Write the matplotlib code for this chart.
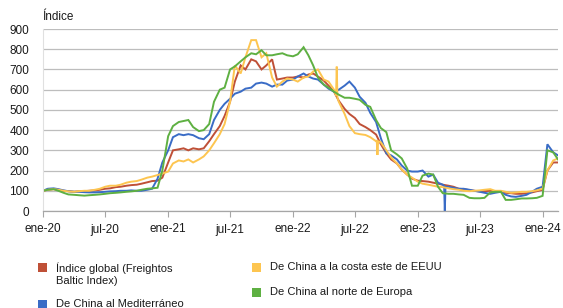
import matplotlib
matplotlib.use("Agg")
import matplotlib.pyplot as plt
from matplotlib.patches import Rectangle
import pandas as pd

plt.rcParams['font.family'] = ['Liberation Sans', 'DejaVu Sans']

# semi-monthly observation dates (1st and 15th), Jan 2020 - Feb 2024
dates = pd.date_range('2020-01-01', periods=100, freq='SMS')

global_fbx = [100, 105, 108, 105, 100, 98, 95, 97, 98, 100,
              102, 105, 110, 112, 118, 120, 125, 128, 130, 135,
              142, 148, 150, 165, 240, 300, 305, 310, 300, 310,
              305, 310, 345, 380, 420, 470, 540, 640, 720, 700,
              750, 740, 700, 720, 750, 650, 655, 660, 660, 665,
              660, 675, 680, 665, 645, 620, 590, 545, 505, 480,
              460, 430, 415, 400, 378, 330, 285, 255, 235, 205,
              180, 160, 150, 148, 145, 140, 135, 130, 125, 120,
              110, 108, 103, 100, 97, 98, 100, 98, 95, 90,
              88, 85, 85, 88, 92, 98, 105, 200, 240, 240]

china_med = [100, 110, 112, 108, 102, 98, 95, 95, 93, 92,
             92, 93, 95, 97, 98, 100, 100, 102, 100, 100,
             105, 110, 160, 240, 300, 365, 380, 375, 380, 375,
             360, 355, 380, 450, 500, 530, 555, 580, 590, 605,
             610, 630, 635, 630, 615, 625, 625, 645, 650, 665,
             680, 665, 655, 650, 625, 605, 590, 600, 620, 640,
             610, 565, 535, 485, 440, 360, 285, 275, 255, 225,
             200, 195, 195, 200, 170, 180, 140, 130, 120, 115,
             110, 110, 105, 100, 95, 90, 85, 90, 95, 80,
             72, 70, 75, 80, 95, 110, 120, 330, 290, 275]

china_useast = [100, 105, 108, 105, 100, 97, 95, 98, 100, 100,
                105, 110, 120, 125, 125, 130, 140, 145, 148, 155,
                165, 170, 178, 185, 195, 235, 250, 245, 255, 240,
                255, 270, 300, 335, 380, 430, 540, 720, 680, 760,
                845, 845, 760, 780, 660, 615, 640, 655, 650, 640,
                660, 665, 690, 700, 650, 640, 600, 540, 480, 420,
                385, 380, 376, 365, 345, 340, 300, 265, 235, 205,
                180, 165, 145, 135, 130, 125, 120, 118, 112, 108,
                105, 100, 98, 100, 102, 105, 108, 100, 100, 95,
                90, 92, 95, 95, 98, 102, 110, 200, 250, 260]

china_neurope = [100, 105, 108, 100, 90, 82, 80, 78, 76, 78,
                 80, 82, 85, 88, 90, 92, 95, 97, 100, 105,
                 110, 112, 115, 200, 370, 420, 440, 445, 450, 415,
                 395, 400, 430, 540, 600, 610, 700, 715, 740, 760,
                 780, 775, 795, 770, 770, 775, 780, 770, 765, 775,
                 810, 770, 720, 660, 625, 610, 590, 575, 560, 560,
                 555, 550, 525, 515, 450, 410, 390, 300, 280, 260,
                 210, 125, 125, 175, 185, 180, 120, 88, 85, 85,
                 82, 80, 65, 63, 63, 65, 92, 95, 95, 55,
                 55, 58, 62, 62, 63, 65, 75, 300, 290, 255]

# short-lived weekly spikes
med_spike_dates = ['2023-03-19', '2023-03-21', '2023-03-23']
med_spike_vals = [125, 0, 120]
useast_spike_dates = ['2022-05-07', '2022-05-09', '2022-05-11', '2022-09-03', '2022-09-05', '2022-09-07']
useast_spike_vals = [570, 714, 560, 350, 277, 345]

xtick_dates = pd.date_range('2020-01-01', '2024-01-01', freq='6MS')
xtick_labels = ['ene-20', 'jul-20', 'ene-21', 'jul-21', 'ene-22', 'jul-22',
                'ene-23', 'jul-23', 'ene-24']
yticks = [0, 100, 200, 300, 400, 500, 600, 700, 800, 900]

labels = ['Índice global (Freightos\nBaltic Index)', 'De China al Mediterráneo',
          'De China a la costa este de EEUU', 'De China al norte de Europa']
colors = ['#BF5037', '#3A6CC6', '#FDC550', '#5EB042']


def merge(base_vals, extra_dates, extra_vals):
    s = pd.Series(base_vals, index=dates)
    e = pd.Series(extra_vals, index=pd.to_datetime(extra_dates))
    return pd.concat([s, e]).sort_index()


series = [pd.Series(global_fbx, index=dates),
          merge(china_med, med_spike_dates, med_spike_vals),
          merge(china_useast, useast_spike_dates, useast_spike_vals),
          pd.Series(china_neurope, index=dates)]

W, H = 563, 308
fig = plt.figure(figsize=(W / 100, H / 100), dpi=100)
ax = fig.add_axes([43 / W, 1 - 211 / H, (558 - 43) / W, (211 - 29) / H])

for s, c in zip(series, colors):
    ax.plot(s.index, s.values, color=c, lw=1.4, solid_joinstyle='miter')

ax.set_ylim(0, 900)
ax.set_xlim(dates[0], dates[-1])
ax.set_yticks(yticks)
ax.set_yticklabels([str(v) for v in yticks])
ax.set_xticks(xtick_dates)
ax.set_xticklabels(xtick_labels)
ax.yaxis.grid(True, color='#BDBDBD', lw=0.9)
ax.set_axisbelow(True)
for sp in ['top', 'right']:
    ax.spines[sp].set_visible(False)
ax.spines['left'].set_color('#E0E0E0')
ax.spines['left'].set_linewidth(0.8)
ax.spines['bottom'].set_color('#A6A6A6')
ax.spines['bottom'].set_linewidth(0.9)
ax.tick_params(axis='y', length=0, pad=10, labelsize=8.5, colors='#1a1a1a')
ax.tick_params(axis='x', length=4, width=0.8, color='#A6A6A6', pad=5,
               labelsize=8.5, labelcolor='#1a1a1a')

fig.text(42 / W, 1 - 17 / H, 'Índice', ha='left', va='center', fontsize=8.5, color='#1a1a1a')

# legend (manual layout)
leg_pos = [(38, 263), (38, 300), (252, 263), (252, 288)]
for (px, py), lab, c in zip(leg_pos, labels, colors):
    fig.add_artist(Rectangle((px / W, 1 - (py + 9) / H), 9 / W, 9 / H,
                             transform=fig.transFigure, facecolor=c, edgecolor='none'))
    fig.text((px + 18) / W, 1 - (py - 1) / H, lab, ha='left', va='top',
             fontsize=8, color='#1a1a1a', linespacing=1.25)

fig.savefig('out.png', dpi=100)
